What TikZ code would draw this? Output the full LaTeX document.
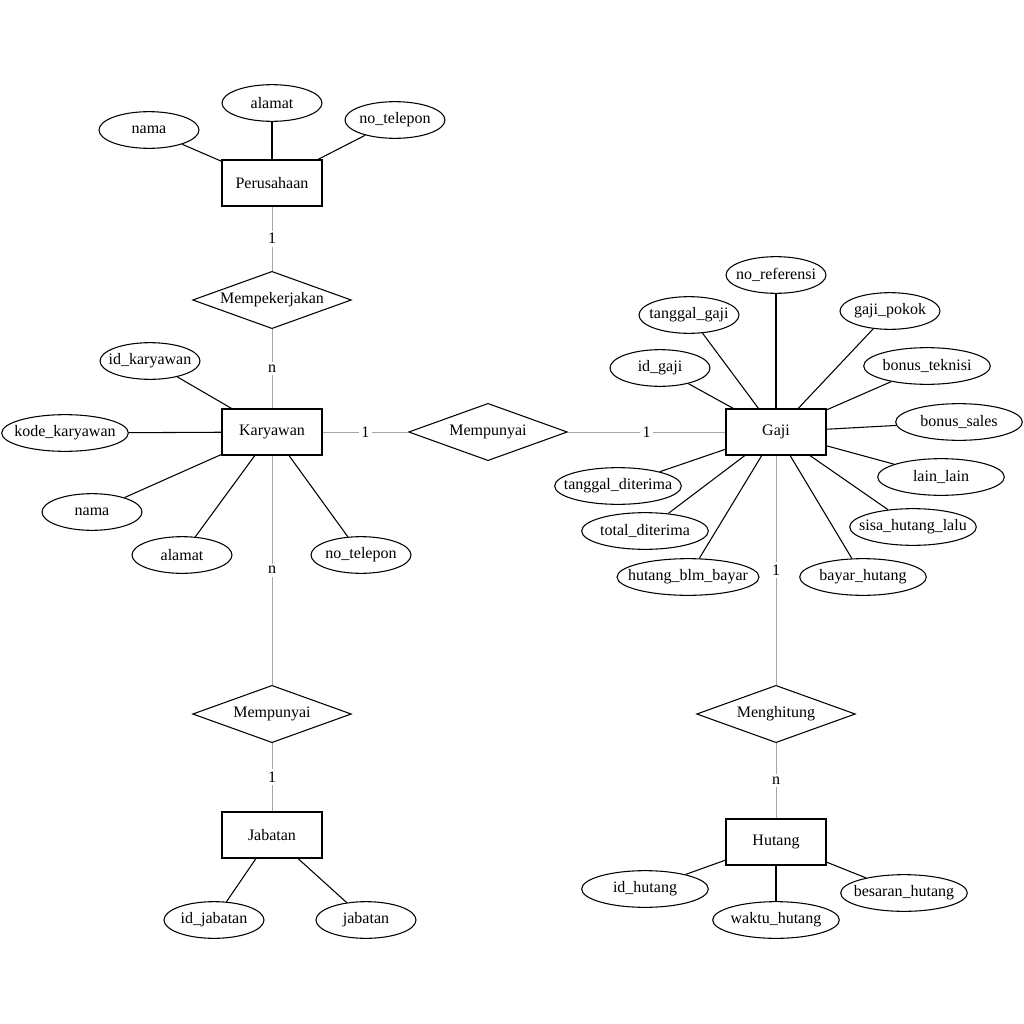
\documentclass[tikz,border=0pt]{standalone}
\usepackage{fontspec}
\setmainfont{Liberation Serif}
\usetikzlibrary{shapes.geometric}

\begin{document}
\begin{tikzpicture}[x=0.75pt, y=-0.75pt,
    font=\fontsize{12pt}{14pt}\selectfont,
    entity/.style={draw, thick, minimum width=75pt, minimum height=34.5pt},
    attr/.style={draw, ellipse, thick, minimum width=75pt, minimum height=27.5pt, inner xsep=-8pt, inner ysep=1pt},
    wide/.style={minimum width=95pt},
    rel/.style={draw, diamond, thick, aspect=2.8, minimum width=119pt, minimum height=43pt, inner sep=1pt},
    link/.style={draw=gray!70, line width=0.5pt},
    card/.style={midway, fill=white, inner sep=2pt},
    attrline/.style={thick}]
    \useasboundingbox (0,0) rectangle (1024,1024);

    % Entities
    \node[entity] (perusahaan) at (272,183) {Perusahaan};
    \node[entity] (karyawan) at (272,432) {Karyawan};
    \node[entity] (gaji) at (776,432) {Gaji};
    \node[entity] (jabatan) at (272,835) {Jabatan};
    \node[entity] (hutang) at (776,842) {Hutang};

    % Relationships
    \node[rel] (mempekerjakan) at (272,300) {Mempekerjakan};
    \node[rel] (mempunyaiGaji) at (488,432) {Mempunyai};
    \node[rel] (mempunyaiJab) at (272,714) {Mempunyai};
    \node[rel] (menghitung) at (776,714) {Menghitung};

    % Attributes of Perusahaan
    \node[attr] (p-nama) at (149,130) {nama};
    \node[attr] (p-alamat) at (272,103) {alamat};
    \node[attr] (p-telepon) at (395,120) {no\_telepon};

    % Attributes of Karyawan
    \node[attr] (k-id) at (150,361) {id\_karyawan};
    \node[attr, wide] (k-kode) at (65,433) {kode\_karyawan};
    \node[attr] (k-nama) at (92,512) {nama};
    \node[attr] (k-alamat) at (182,555) {alamat};
    \node[attr] (k-telepon) at (361,555) {no\_telepon};

    % Attributes of Gaji
    \node[attr] (g-ref) at (776,275) {no\_referensi};
    \node[attr] (g-tglgaji) at (689,315) {tanggal\_gaji};
    \node[attr] (g-pokok) at (890,311) {gaji\_pokok};
    \node[attr] (g-id) at (660,368) {id\_gaji};
    \node[attr, wide] (g-teknisi) at (927,366) {bonus\_teknisi};
    \node[attr, wide] (g-sales) at (959,422) {bonus\_sales};
    \node[attr, wide] (g-lain) at (941,477) {lain\_lain};
    \node[attr, wide] (g-sisa) at (913,527) {sisa\_hutang\_lalu};
    \node[attr, wide] (g-bayar) at (863,577) {bayar\_hutang};
    \node[attr, minimum width=106.5pt] (g-blm) at (688,577) {hutang\_blm\_bayar};
    \node[attr, wide] (g-total) at (645,531) {total\_diterima};
    \node[attr, wide] (g-tglterima) at (618,486) {tanggal\_diterima};

    % Attributes of Jabatan
    \node[attr] (j-id) at (214,920) {id\_jabatan};
    \node[attr] (j-jabatan) at (366,920) {jabatan};

    % Attributes of Hutang
    \node[attr, wide] (h-id) at (645,889) {id\_hutang};
    \node[attr, wide] (h-waktu) at (776,920) {waktu\_hutang};
    \node[attr, wide] (h-besaran) at (904,893) {besaran\_hutang};

    % Relationship lines with cardinalities
    \draw[link] (perusahaan) -- node[card] {1} (mempekerjakan);
    \draw[link] (mempekerjakan) -- node[card] {n} (karyawan);
    \draw[link] (karyawan) -- node[card] {1} (mempunyaiGaji);
    \draw[link] (mempunyaiGaji) -- node[card] {1} (gaji);
    \draw[link] (karyawan) -- node[card] {n} (mempunyaiJab);
    \draw[link] (mempunyaiJab) -- node[card] {1} (jabatan);
    \draw[link] (gaji) -- node[card] {1} (menghitung);
    \draw[link] (menghitung) -- node[card] {n} (hutang);

    % Attribute lines
    \draw[attrline] (perusahaan) -- (p-nama);
    \draw[attrline] (perusahaan) -- (p-alamat);
    \draw[attrline] (perusahaan) -- (p-telepon);

    \draw[attrline] (karyawan) -- (k-id);
    \draw[attrline] (karyawan) -- (k-kode);
    \draw[attrline] (karyawan) -- (k-nama);
    \draw[attrline] (karyawan) -- (k-alamat);
    \draw[attrline] (karyawan) -- (k-telepon);

    \draw[attrline] (gaji) -- (g-ref);
    \draw[attrline] (gaji) -- (g-tglgaji);
    \draw[attrline] (gaji) -- (g-pokok);
    \draw[attrline] (gaji) -- (g-id);
    \draw[attrline] (gaji) -- (g-teknisi);
    \draw[attrline] (gaji) -- (g-sales);
    \draw[attrline] (gaji) -- (g-lain);
    \draw[attrline] (gaji) -- (g-sisa);
    \draw[attrline] (gaji) -- (g-bayar);
    \draw[attrline] (gaji) -- (g-blm);
    \draw[attrline] (gaji) -- (g-total);
    \draw[attrline] (gaji) -- (g-tglterima);

    \draw[attrline] (jabatan) -- (j-id);
    \draw[attrline] (jabatan) -- (j-jabatan);

    \draw[attrline] (hutang) -- (h-id);
    \draw[attrline] (hutang) -- (h-waktu);
    \draw[attrline] (hutang) -- (h-besaran);
\end{tikzpicture}
\end{document}
